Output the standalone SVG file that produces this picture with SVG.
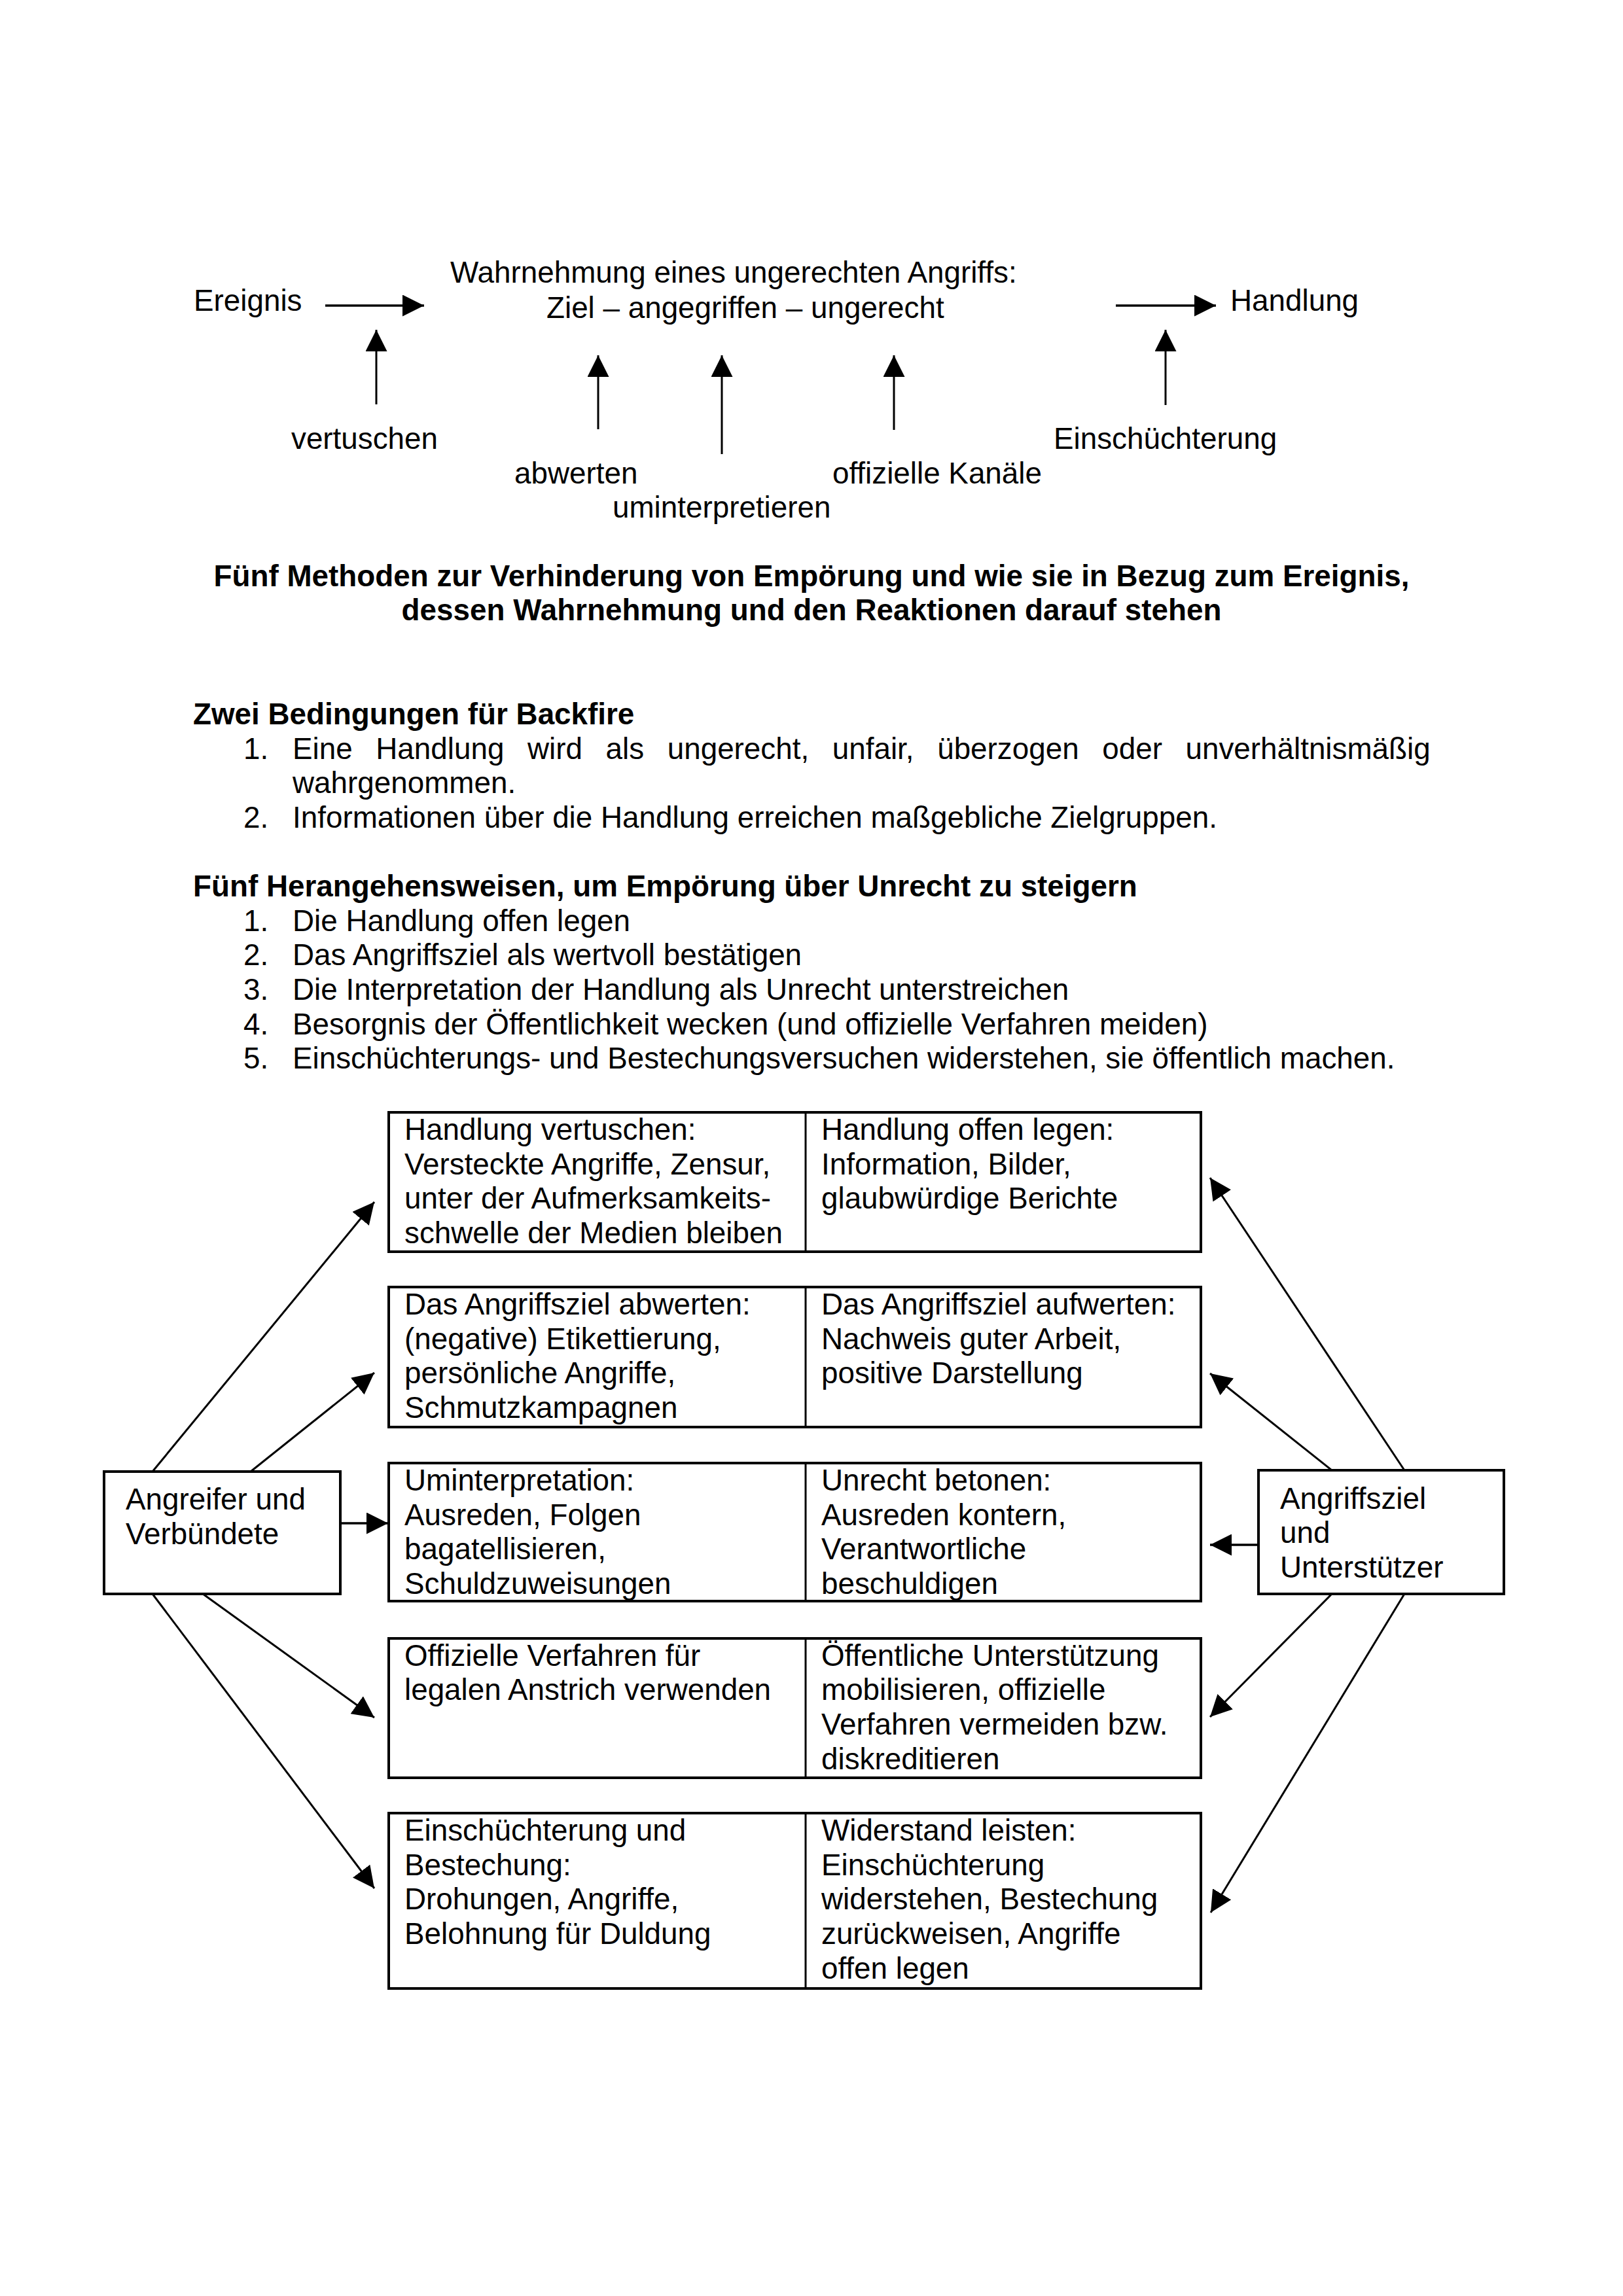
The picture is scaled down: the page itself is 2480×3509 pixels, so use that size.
<svg xmlns="http://www.w3.org/2000/svg" width="2480" height="3509" viewBox="0 0 2480 3509">
<defs>
<marker id="ah" markerUnits="userSpaceOnUse" markerWidth="33" markerHeight="33" viewBox="0 0 33 33" refX="33" refY="16.5" orient="auto">
<path d="M0,0 L33,16.5 L0,33 z" fill="#000"/>
</marker>
<style>
text{font-family:"Liberation Sans",Arial,sans-serif;font-size:45.8px;fill:#000}
.b{font-weight:bold}
.box{fill:none;stroke:#000;stroke-width:4}
.div{stroke:#000;stroke-width:3}
.c{stroke:#000;stroke-width:3;fill:none;marker-end:url(#ah)}
.ct{stroke:#000;stroke-width:3.5;fill:none;marker-end:url(#ah)}
</style>
</defs>
<rect width="2480" height="3509" fill="#fff"/>

<g id="header">
<text x="296" y="475">Ereignis</text>
<text x="688" y="432">Wahrnehmung eines ungerechten Angriffs:</text>
<text x="835" y="486">Ziel – angegriffen – ungerecht</text>
<text x="1880" y="475">Handlung</text>
<text x="445" y="686">vertuschen</text>
<text x="1610" y="686">Einschüchterung</text>
<text x="786" y="739">abwerten</text>
<text x="1272" y="739">offizielle Kanäle</text>
<text x="936" y="791">uminterpretieren</text>
</g>

<g id="title">
<text class="b" x="1240" y="896" text-anchor="middle">Fünf Methoden zur Verhinderung von Empörung und wie sie in Bezug zum Ereignis,</text>
<text class="b" x="1240" y="948" text-anchor="middle">dessen Wahrnehmung und den Reaktionen darauf stehen</text>
</g>

<g id="lists">
<text class="b" x="295" y="1107">Zwei Bedingungen für Backfire</text>
<text x="372" y="1160">1.</text>
<text x="447" y="1160" word-spacing="22.9">Eine Handlung wird als ungerecht, unfair, überzogen oder unverhältnismäßig</text>
<text x="447" y="1212">wahrgenommen.</text>
<text x="372" y="1265">2.</text>
<text x="447" y="1265">Informationen über die Handlung erreichen maßgebliche Zielgruppen.</text>
<text class="b" x="295" y="1370">Fünf Herangehensweisen, um Empörung über Unrecht zu steigern</text>
<text x="372" y="1423">1.</text><text x="447" y="1423">Die Handlung offen legen</text>
<text x="372" y="1475">2.</text><text x="447" y="1475">Das Angriffsziel als wertvoll bestätigen</text>
<text x="372" y="1528">3.</text><text x="447" y="1528">Die Interpretation der Handlung als Unrecht unterstreichen</text>
<text x="372" y="1581">4.</text><text x="447" y="1581">Besorgnis der Öffentlichkeit wecken (und offizielle Verfahren meiden)</text>
<text x="372" y="1633">5.</text><text x="447" y="1633">Einschüchterungs- und Bestechungsversuchen widerstehen, sie öffentlich machen.</text>
</g>

<g id="row1">
<rect class="box" x="594" y="1700" width="1241" height="213"/>
<line class="div" x1="1231" y1="1700" x2="1231" y2="1913"/>
<text x="618" y="1742">Handlung vertuschen:</text>
<text x="618" y="1795">Versteckte Angriffe, Zensur,</text>
<text x="618" y="1847">unter der Aufmerksamkeits-</text>
<text x="618" y="1900">schwelle der Medien bleiben</text>
<text x="1255" y="1742">Handlung offen legen:</text>
<text x="1255" y="1795">Information, Bilder,</text>
<text x="1255" y="1847">glaubwürdige Berichte</text>
</g>

<g id="row2">
<rect class="box" x="594" y="1967" width="1241" height="214"/>
<line class="div" x1="1231" y1="1967" x2="1231" y2="2181"/>
<text x="618" y="2009">Das Angriffsziel abwerten:</text>
<text x="618" y="2062">(negative) Etikettierung,</text>
<text x="618" y="2114">persönliche Angriffe,</text>
<text x="618" y="2167">Schmutzkampagnen</text>
<text x="1255" y="2009">Das Angriffsziel aufwerten:</text>
<text x="1255" y="2062">Nachweis guter Arbeit,</text>
<text x="1255" y="2114">positive Darstellung</text>
</g>

<g id="row3">
<rect class="box" x="594" y="2236" width="1241" height="211"/>
<line class="div" x1="1231" y1="2236" x2="1231" y2="2447"/>
<text x="618" y="2278">Uminterpretation:</text>
<text x="618" y="2331">Ausreden, Folgen</text>
<text x="618" y="2383">bagatellisieren,</text>
<text x="618" y="2436">Schuldzuweisungen</text>
<text x="1255" y="2278">Unrecht betonen:</text>
<text x="1255" y="2331">Ausreden kontern,</text>
<text x="1255" y="2383">Verantwortliche</text>
<text x="1255" y="2436">beschuldigen</text>
</g>

<g id="row4">
<rect class="box" x="594" y="2504" width="1241" height="213"/>
<line class="div" x1="1231" y1="2504" x2="1231" y2="2717"/>
<text x="618" y="2546">Offizielle Verfahren für</text>
<text x="618" y="2598">legalen Anstrich verwenden</text>
<text x="1255" y="2546">Öffentliche Unterstützung</text>
<text x="1255" y="2598">mobilisieren, offizielle</text>
<text x="1255" y="2651">Verfahren vermeiden bzw.</text>
<text x="1255" y="2704">diskreditieren</text>
</g>

<g id="row5">
<rect class="box" x="594" y="2771" width="1241" height="268"/>
<line class="div" x1="1231" y1="2771" x2="1231" y2="3039"/>
<text x="618" y="2813">Einschüchterung und</text>
<text x="618" y="2866">Bestechung:</text>
<text x="618" y="2918">Drohungen, Angriffe,</text>
<text x="618" y="2971">Belohnung für Duldung</text>
<text x="1255" y="2813">Widerstand leisten:</text>
<text x="1255" y="2866">Einschüchterung</text>
<text x="1255" y="2918">widerstehen, Bestechung</text>
<text x="1255" y="2971">zurückweisen, Angriffe</text>
<text x="1255" y="3024">offen legen</text>
</g>

<g id="angreifer">
<rect class="box" x="159" y="2249" width="361" height="187"/>
<text x="192" y="2307">Angreifer und</text>
<text x="192" y="2360">Verbündete</text>
</g>

<g id="angriffsziel">
<rect class="box" x="1923" y="2247" width="375" height="189"/>
<text x="1956" y="2306">Angriffsziel</text>
<text x="1956" y="2358">und</text>
<text x="1956" y="2411">Unterstützer</text>
</g>

<g id="connectors">
<line class="ct" x1="497" y1="467" x2="648" y2="467"/>
<line class="ct" x1="1705" y1="467" x2="1858" y2="467"/>
<line class="c" x1="575" y1="618" x2="575" y2="504"/>
<line class="c" x1="914" y1="656" x2="914" y2="543"/>
<line class="c" x1="1103" y1="694" x2="1103" y2="543"/>
<line class="c" x1="1366" y1="657" x2="1366" y2="543"/>
<line class="c" x1="1781" y1="619" x2="1781" y2="504"/>

<line class="c" x1="233" y1="2249" x2="572" y2="1837"/>
<line class="c" x1="383" y1="2249" x2="572" y2="2098"/>
<line class="ct" x1="520" y1="2328" x2="593" y2="2328"/>
<line class="c" x1="310" y1="2436" x2="572" y2="2625"/>
<line class="c" x1="233" y1="2436" x2="572" y2="2886"/>

<line class="c" x1="2146" y1="2247" x2="1849" y2="1800"/>
<line class="c" x1="2035" y1="2247" x2="1849" y2="2099"/>
<line class="ct" x1="1923" y1="2361" x2="1849" y2="2361"/>
<line class="c" x1="2035" y1="2436" x2="1849" y2="2624"/>
<line class="c" x1="2146" y1="2436" x2="1850" y2="2923"/>
</g>
</svg>
